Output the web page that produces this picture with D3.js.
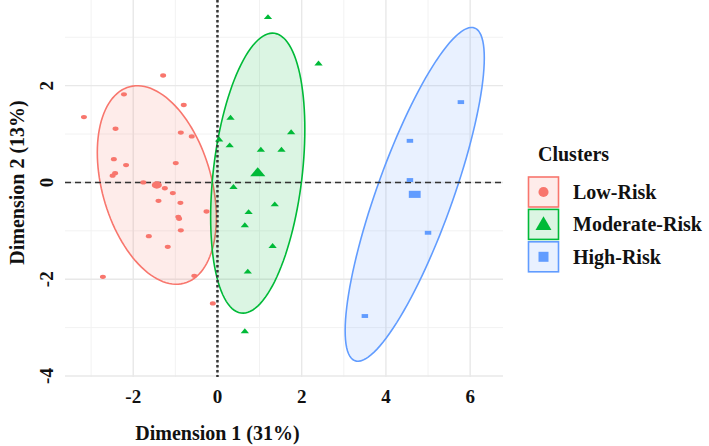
<!DOCTYPE html>
<html>
<head>
<meta charset="utf-8">
<script src="https://cdn.jsdelivr.net/npm/d3@7"></script>
<style>
  body { margin: 0; background: #fff; }
  text { font-family: "Liberation Serif", "Times New Roman", serif; font-weight: bold; fill: #111; }
</style>
</head>
<body>
<svg id="chart" width="709" height="446"></svg>
<script>
// cluster points, [dim1, dim2]
var lowRisk = [
  [-1.29, 2.21], [-2.22, 1.82], [-3.17, 1.35], [-0.80, 1.60], [-2.42, 1.11],
  [-0.87, 1.03], [-0.61, 0.95], [-2.46, 0.48], [-2.17, 0.36], [-0.99, 0.40],
  [-2.43, 0.19], [-2.49, 0.14], [-1.76, 0.00], [-1.25, -0.12], [-1.06, -0.22],
  [-1.40, -0.38], [-0.88, -0.42], [-0.26, -0.60], [-0.93, -0.71], [-0.91, -0.75],
  [-0.87, -0.99], [-1.63, -1.11], [-1.18, -1.33], [-2.72, -1.95], [-0.55, -1.93],
  [-0.11, -2.50]
];
var moderateRisk = [
  [1.20, 3.41], [2.40, 2.45], [0.31, 1.33], [1.75, 1.03], [0.04, 0.88],
  [0.29, 0.76], [1.03, 0.67], [1.52, 0.67], [0.38, -0.10], [1.36, -0.46],
  [0.74, -0.62], [0.65, -0.89], [1.31, -1.32], [0.72, -1.85], [0.65, -3.08]
];
var highRisk = [
  [5.78, 1.66], [4.57, 0.86], [4.57, 0.05], [5.00, -1.04], [3.50, -2.76]
];

var clusterNames = ['Low-Risk', 'Moderate-Risk', 'High-Risk'];
var clusterColors = ['#F8766D', '#00BA38', '#619CFF'];
var xTicks = [-2, 0, 2, 4, 6];
var xMinor = [-3, -1, 1, 3, 5];
var yTicks = [-4, -2, 0, 2];
var yMinor = [-3, -1, 1, 3];
var ellipseLevel = 0.75;

var clusters = [lowRisk, moderateRisk, highRisk];

var svg = d3.select('#chart');
var plotLeft = 65, plotRight = 503, plotTop = 0, plotBottom = 377;

var x = d3.scaleLinear().domain([-3.62, 6.78]).range([plotLeft, plotRight]);
var y = d3.scaleLinear().domain([-4.02, 3.77]).range([plotBottom, plotTop]);

// grid
svg.selectAll('.xminor').data(xMinor).enter().append('line')
  .attr('x1', d => x(d)).attr('x2', d => x(d))
  .attr('y1', plotTop).attr('y2', plotBottom)
  .attr('stroke', '#f2f2f2').attr('stroke-width', 1);
svg.selectAll('.yminor').data(yMinor).enter().append('line')
  .attr('y1', d => y(d)).attr('y2', d => y(d))
  .attr('x1', plotLeft).attr('x2', plotRight)
  .attr('stroke', '#f2f2f2').attr('stroke-width', 1);
svg.selectAll('.xmajor').data(xTicks).enter().append('line')
  .attr('x1', d => x(d)).attr('x2', d => x(d))
  .attr('y1', plotTop).attr('y2', plotBottom)
  .attr('stroke', '#e8e8e8').attr('stroke-width', 1.4);
svg.selectAll('.ymajor').data(yTicks).enter().append('line')
  .attr('y1', d => y(d)).attr('y2', d => y(d))
  .attr('x1', plotLeft).attr('x2', plotRight)
  .attr('stroke', '#e8e8e8').attr('stroke-width', 1.4);

// normal ellipse around each cluster (same idea as stat_ellipse type norm)
function ellipsePoints(pts, level) {
  var n = pts.length;
  var mx = d3.mean(pts, p => p[0]), my = d3.mean(pts, p => p[1]);
  var sxx = 0, syy = 0, sxy = 0;
  pts.forEach(function(p) {
    sxx += (p[0] - mx) * (p[0] - mx);
    syy += (p[1] - my) * (p[1] - my);
    sxy += (p[0] - mx) * (p[1] - my);
  });
  sxx /= (n - 1); syy /= (n - 1); sxy /= (n - 1);
  var d2 = n - 1;
  var qf = (d2 / 2) * (Math.pow(1 - level, -2 / d2) - 1); // F(2, d2) quantile
  var r = Math.sqrt(2 * qf);
  var r11 = Math.sqrt(sxx), r12 = sxy / r11, r22 = Math.sqrt(syy - r12 * r12);
  var out = [];
  for (var i = 0; i < 120; i++) {
    var t = i / 120 * 2 * Math.PI;
    var c = Math.cos(t), s = Math.sin(t);
    out.push([mx + r * c * r11, my + r * (c * r12 + s * r22)]);
  }
  return out;
}

var ellLine = d3.line().x(d => x(d[0])).y(d => y(d[1])).curve(d3.curveLinearClosed);

clusters.forEach(function(pts, i) {
  svg.append('path')
    .attr('d', ellLine(ellipsePoints(pts, ellipseLevel)))
    .attr('fill', clusterColors[i]).attr('fill-opacity', 0.14)
    .attr('stroke', clusterColors[i]).attr('stroke-width', 1.6);
});

// reference lines
svg.append('line')
  .attr('x1', plotLeft).attr('x2', plotRight).attr('y1', y(0)).attr('y2', y(0))
  .attr('stroke', '#333').attr('stroke-width', 1.5).attr('stroke-dasharray', '6,4');
svg.append('line')
  .attr('x1', x(0)).attr('x2', x(0)).attr('y1', plotTop).attr('y2', plotBottom)
  .attr('stroke', '#333').attr('stroke-width', 2.5).attr('stroke-dasharray', '2.5,2.5');

// points
var shapes = [d3.symbolCircle, d3.symbolTriangle, d3.symbolSquare];
var smallSize = [28, 30, 42];
var bigSize = [80, 100, 140];
var squash = [0.72, 0.68, 0.6];

clusters.forEach(function(pts, i) {
  var sym = d3.symbol().type(shapes[i]).size(smallSize[i]);
  svg.selectAll('.pt' + i).data(pts).enter().append('path')
    .attr('d', sym)
    .attr('transform', d => 'translate(' + x(d[0]) + ',' + y(d[1]) + ') scale(1,' + squash[i] + ')')
    .attr('fill', clusterColors[i]);
  var cx = d3.mean(pts, p => p[0]), cy = d3.mean(pts, p => p[1]);
  svg.append('path')
    .attr('d', d3.symbol().type(shapes[i]).size(bigSize[i]))
    .attr('transform', 'translate(' + x(cx) + ',' + y(cy) + ') scale(1,' + squash[i] + ')')
    .attr('fill', clusterColors[i]);
});

// axes text
svg.selectAll('.xlab').data(xTicks).enter().append('text')
  .attr('x', d => x(d)).attr('y', 403)
  .attr('text-anchor', 'middle').attr('font-size', 19)
  .text(d => d);
svg.selectAll('.ylab').data(yTicks).enter().append('text')
  .attr('transform', d => 'translate(52.5,' + y(d) + ') rotate(-90)')
  .attr('text-anchor', 'middle').attr('font-size', 19)
  .text(d => d);

svg.append('text')
  .attr('x', x(0)).attr('y', 440)
  .attr('text-anchor', 'middle').attr('font-size', 20)
  .text('Dimension 1 (31%)');
svg.append('text')
  .attr('transform', 'translate(24,' + y(0) + ') rotate(-90)')
  .attr('text-anchor', 'middle').attr('font-size', 20)
  .text('Dimension 2 (13%)');

// legend
var legend = svg.append('g');
legend.append('text').attr('x', 538).attr('y', 161).attr('font-size', 20).text('Clusters');
clusterNames.forEach(function(name, i) {
  var ky = 177 + i * 32.4;
  legend.append('rect')
    .attr('x', 528.5).attr('y', ky).attr('width', 30).attr('height', 30)
    .attr('fill', clusterColors[i]).attr('fill-opacity', 0.14)
    .attr('stroke', clusterColors[i]).attr('stroke-width', 1.6);
  legend.append('path')
    .attr('d', d3.symbol().type(shapes[i]).size([80, 110, 100][i]))
    .attr('transform', 'translate(543.5,' + (ky + 15 + (i === 1 ? 1 : 0)) + ')')
    .attr('fill', clusterColors[i]);
  legend.append('text')
    .attr('x', 573).attr('y', ky + 22).attr('font-size', 20).text(name);
});
</script>
</body>
</html>
